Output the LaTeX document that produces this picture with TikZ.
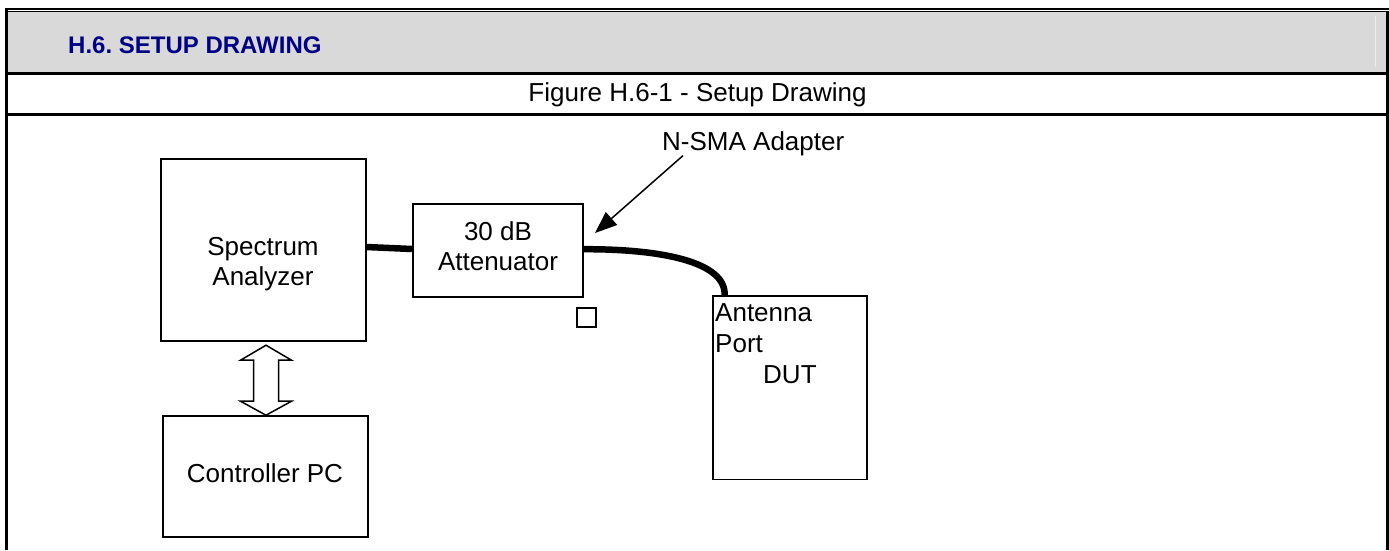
\documentclass[tikz,border=0pt]{standalone}
\usepackage{fontspec}
\setmainfont{Liberation Sans}
\usetikzlibrary{arrows.meta,calc}
\definecolor{hdrgray}{RGB}{217,217,217}
\definecolor{navy}{RGB}{0,0,135}
\frenchspacing
\tikzset{
  boxnode/.style={draw=black,line width=1.8pt,fill=white,inner sep=0pt,rectangle},
  txt/.style={inner sep=0pt,font=\fontsize{26}{30}\selectfont},
  frameline/.style={line width=3pt,black},
  cable/.style={line width=6.5pt,black},
}
\begin{document}
\begin{tikzpicture}[x=1pt,y=-1pt]
\useasboundingbox (0,0) rectangle (1389,550);
% header band
\fill[hdrgray] (8,12) rectangle (1386,72);
\draw[white!93!black,line width=1pt] (1375,16) -- (1375,67);
% frame
\draw[line width=2.5pt] (5,9) -- (1389,9);
\draw[line width=1pt] (8,11.8) -- (1389,11.8);
\draw[frameline] (6.5,8) -- (6.5,550);
\draw[frameline] (1387.5,11) -- (1387.5,550);
\draw[frameline] (5,73.5) -- (1389,73.5);
\draw[frameline] (5,114) -- (1389,114);
% texts of header
\node[txt,anchor=base west,font=\fontsize{24}{28}\selectfont\bfseries,text=navy] (title) at (68,53.3) {H.6. SETUP DRAWING};
\node[txt,anchor=base] (figcap) at (697.5,101.7) {Figure H.6-1 - Setup Drawing};
% boxes
\node[boxnode,minimum width=205pt,minimum height=182pt] (sa) at (263.2,250) {};
\node[boxnode,minimum width=170.5pt,minimum height=93pt] (att) at (498,250.7) {};
\node[boxnode,minimum width=205pt,minimum height=120.7pt] (pc) at (265.2,476.3) {};
\node[boxnode,minimum width=154pt,minimum height=183.5pt] (dut) at (790,387.7) {};
\node[boxnode,line width=2pt,minimum width=19pt,minimum height=19pt] (sq) at (586,317.5) {};
% box texts
\node[txt,anchor=base] (saA) at (263,255.7) {Spectrum};
\node[txt,anchor=base] (saB) at (263,285.7) {Analyzer};
\node[txt,anchor=base] (attA) at (498,240) {30 dB};
\node[txt,anchor=base] (attB) at (498,270) {Attenuator};
\node[txt,anchor=base] (pcA) at (265,482.3) {Controller PC};
\node[txt,anchor=base west] (dutA) at (715,321.7) {Antenna};
\node[txt,anchor=base west] (dutB) at (715,352.7) {Port};
\node[txt,anchor=base west] (dutC) at (763,383) {DUT};
\node[txt,anchor=base west] (nsma) at (662,150) {N-SMA Adapter};
% cables
\draw[cable] ($(sa.east)+(0,-3)$) -- ($(att.west)+(0,-1.7)$);
\draw[cable] ($(att.east)+(0,-1.5)$) .. controls (662,249) and (726,262) .. ($(dut.north west)+(12.5,0)$);
% adapter arrow
\coordinate (adp) at (595,233);
\draw[line width=1.5pt,-{Triangle[length=22pt,width=17pt]}] ($(nsma.south west)+(21,0)$) -- (adp);
% double block arrow
\coordinate (dtop) at ($(sa.south)+(2.8,3.3)$);
\draw[line width=1.5pt,fill=white,line join=miter] (dtop) -- ++(25.5,15) -- ++(-13,0) -- ++(0,41) -- ++(13,0) -- ++(-25.5,14) -- ++(-25.5,-14) -- ++(13,0) -- ++(0,-41) -- ++(-13,0) -- cycle;
\end{tikzpicture}
\end{document}
